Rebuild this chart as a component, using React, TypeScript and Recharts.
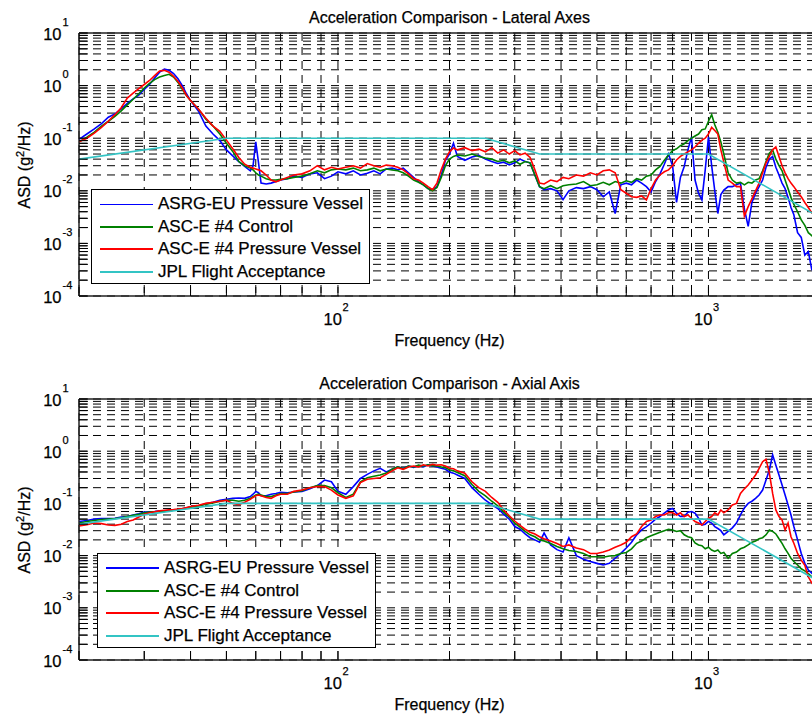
import React from 'react';
import { LineChart, Line, XAxis, YAxis, CartesianGrid, Legend, ReferenceLine } from 'recharts';

// frequency grid (Hz) shared by the measured spectra
const freqHz = [
  20, 21, 22, 23, 24, 25, 26, 27, 28, 29,
  30, 31, 32, 33, 34, 35, 36, 37, 38, 39,
  40, 42, 44, 46, 48, 50, 52, 54, 56, 58,
  59, 60, 61, 62, 64, 66, 68, 70, 73, 76,
  80, 84, 88, 92, 96, 100, 105, 110, 115, 120,
  125, 130, 135, 140, 145, 150, 155, 160, 165, 170,
  175, 180, 185, 190, 195, 200, 205, 210, 220, 230,
  240, 250, 260, 270, 280, 290, 300, 310, 320, 330,
  340, 350, 360, 375, 390, 405, 420, 440, 460, 480,
  500, 520, 540, 560, 580, 600, 620, 640, 660, 680,
  700, 720, 740, 760, 780, 800, 820, 840, 860, 880,
  900, 920, 940, 960, 980, 1000, 1020, 1040, 1060, 1080,
  1100, 1130, 1160, 1190, 1220, 1250, 1280, 1310, 1340, 1370,
  1400, 1430, 1460, 1490, 1520, 1550, 1580, 1610, 1640, 1670,
  1700, 1740, 1780, 1820, 1860, 1900, 1950, 2000,
];

// Lateral axes, ASD in g^2/Hz
const lateralAsrg = [
  0.095, 0.12, 0.15, 0.19, 0.25, 0.29, 0.36, 0.46, 0.56, 0.66,
  0.85, 1.05, 1.4, 1.8, 2.05, 1.95, 1.7, 1.35, 1.0, 0.7,
  0.52, 0.33, 0.17, 0.12, 0.09, 0.06, 0.046, 0.036, 0.029, 0.024,
  0.03, 0.085, 0.035, 0.014, 0.0135, 0.014, 0.015, 0.016, 0.017, 0.019,
  0.018, 0.021, 0.022, 0.017, 0.019, 0.023, 0.021, 0.024, 0.02, 0.0215,
  0.024, 0.021, 0.026, 0.027, 0.025, 0.027, 0.022, 0.018, 0.015, 0.013,
  0.011, 0.0105, 0.012, 0.02, 0.038, 0.05, 0.08, 0.045, 0.038, 0.044,
  0.047, 0.04, 0.036, 0.033, 0.035, 0.031, 0.034, 0.04, 0.036, 0.034,
  0.02, 0.012, 0.0105, 0.011, 0.01, 0.0068, 0.01, 0.0115, 0.011, 0.012,
  0.0105, 0.0077, 0.0095, 0.0037, 0.013, 0.014, 0.013, 0.016, 0.014, 0.012,
  0.0095, 0.015, 0.021, 0.032, 0.05, 0.03, 0.006, 0.018, 0.029, 0.06,
  0.106, 0.016, 0.009, 0.0067, 0.025, 0.106, 0.03, 0.01, 0.0037, 0.0085,
  0.0103, 0.012, 0.012, 0.013, 0.014, 0.0045, 0.0021, 0.006, 0.009, 0.012,
  0.016, 0.028, 0.04, 0.045, 0.028, 0.02, 0.014, 0.011, 0.0075, 0.0048,
  0.0035, 0.0016, 0.0013, 0.0006, 0.0007, 0.00032, 0.00028, 0.0002,
];
const lateralControl = [
  0.085, 0.105, 0.13, 0.17, 0.21, 0.26, 0.33, 0.43, 0.55, 0.7,
  0.9, 1.1, 1.3, 1.45, 1.55, 1.64, 1.45, 1.15, 0.85, 0.65,
  0.52, 0.36, 0.23, 0.17, 0.12, 0.08, 0.056, 0.036, 0.03, 0.027,
  0.025, 0.022, 0.02, 0.019, 0.017, 0.016, 0.016, 0.0165, 0.017, 0.018,
  0.019, 0.021, 0.024, 0.022, 0.025, 0.026, 0.025, 0.027, 0.024, 0.025,
  0.027, 0.024, 0.026, 0.025, 0.024, 0.022, 0.019, 0.016, 0.0145, 0.013,
  0.011, 0.01, 0.0115, 0.018, 0.03, 0.04, 0.045, 0.048, 0.046, 0.05,
  0.045, 0.042, 0.04, 0.036, 0.038, 0.034, 0.037, 0.032, 0.036, 0.034,
  0.02, 0.012, 0.011, 0.0125, 0.011, 0.0125, 0.013, 0.0135, 0.015, 0.0125,
  0.013, 0.0145, 0.013, 0.015, 0.014, 0.0155, 0.0145, 0.017, 0.016, 0.019,
  0.02, 0.025, 0.029, 0.038, 0.048, 0.058, 0.063, 0.072, 0.078, 0.09,
  0.1, 0.11, 0.12, 0.145, 0.15, 0.21, 0.28, 0.18, 0.13, 0.085,
  0.05, 0.022, 0.016, 0.014, 0.0145, 0.013, 0.0145, 0.014, 0.016, 0.017,
  0.024, 0.036, 0.052, 0.06, 0.04, 0.03, 0.024, 0.016, 0.011, 0.0075,
  0.0055, 0.004, 0.0028, 0.0022, 0.0016, 0.0014, 0.0012, 0.0011,
];
const lateralPv = [
  0.086, 0.1, 0.125, 0.16, 0.21, 0.28, 0.38, 0.58, 0.72, 0.88,
  1.05, 1.25, 1.55, 1.9, 1.95, 1.8, 1.5, 1.2, 0.9, 0.65,
  0.52, 0.36, 0.24, 0.17, 0.135, 0.092, 0.063, 0.043, 0.032, 0.028,
  0.027, 0.026, 0.025, 0.024, 0.02, 0.016, 0.0148, 0.016, 0.018, 0.02,
  0.021, 0.024, 0.03, 0.025, 0.028, 0.026, 0.028, 0.03, 0.027, 0.033,
  0.03, 0.028, 0.031, 0.03, 0.028, 0.025, 0.021, 0.017, 0.016, 0.014,
  0.012, 0.0105, 0.014, 0.025, 0.04, 0.055, 0.065, 0.06, 0.066, 0.058,
  0.062, 0.055, 0.066, 0.052, 0.06, 0.05, 0.058, 0.048, 0.052, 0.043,
  0.025, 0.014, 0.0135, 0.016, 0.015, 0.018, 0.017, 0.02, 0.019, 0.022,
  0.02, 0.024, 0.025, 0.022, 0.0105, 0.009, 0.0077, 0.0075, 0.008, 0.0067,
  0.011, 0.016, 0.02, 0.023, 0.025, 0.03, 0.0385, 0.045, 0.05, 0.055,
  0.06, 0.068, 0.08, 0.092, 0.1, 0.12, 0.16, 0.14, 0.12, 0.06,
  0.035, 0.016, 0.014, 0.012, 0.012, 0.0033, 0.005, 0.007, 0.01, 0.014,
  0.022, 0.034, 0.045, 0.06, 0.068, 0.045, 0.03, 0.022, 0.017, 0.014,
  0.012, 0.0095, 0.0077, 0.006, 0.0048, 0.0038, 0.0033, 0.0028,
];

// Axial axis, ASD in g^2/Hz
const axialAsrg = [
  0.045, 0.047, 0.05, 0.051, 0.051, 0.052, 0.055, 0.056, 0.06, 0.063,
  0.068, 0.069, 0.07, 0.072, 0.071, 0.073, 0.074, 0.076, 0.079, 0.082,
  0.086, 0.09, 0.098, 0.105, 0.115, 0.12, 0.125, 0.127, 0.125, 0.135,
  0.15, 0.17, 0.16, 0.14, 0.14, 0.15, 0.155, 0.163, 0.16, 0.165,
  0.17, 0.19, 0.22, 0.28, 0.26, 0.17, 0.15, 0.21, 0.3, 0.36,
  0.42, 0.47, 0.4, 0.45, 0.5, 0.47, 0.52, 0.49, 0.53, 0.5,
  0.55, 0.52, 0.5, 0.47, 0.45, 0.4, 0.38, 0.35, 0.3, 0.2,
  0.15, 0.115, 0.095, 0.08, 0.062, 0.05, 0.036, 0.032, 0.026, 0.022,
  0.02, 0.018, 0.027, 0.016, 0.013, 0.0117, 0.022, 0.01, 0.0085, 0.0077,
  0.0071, 0.0066, 0.0071, 0.0089, 0.011, 0.014, 0.018, 0.025, 0.031, 0.036,
  0.042, 0.05, 0.056, 0.065, 0.075, 0.08, 0.065, 0.056, 0.056, 0.068,
  0.07, 0.065, 0.052, 0.0385, 0.04, 0.045, 0.042, 0.036, 0.033, 0.03,
  0.025, 0.029, 0.034, 0.042, 0.06, 0.082, 0.1, 0.11, 0.125, 0.145,
  0.18, 0.28, 0.436, 0.85, 0.54, 0.35, 0.225, 0.145, 0.093, 0.06,
  0.036, 0.02, 0.011, 0.0071, 0.0053, 0.0046, 0.004, 0.0035,
];
const axialControl = [
  0.042, 0.045, 0.047, 0.049, 0.05, 0.051, 0.053, 0.056, 0.059, 0.062,
  0.066, 0.068, 0.069, 0.07, 0.071, 0.072, 0.074, 0.076, 0.078, 0.081,
  0.085, 0.089, 0.096, 0.102, 0.11, 0.115, 0.115, 0.11, 0.115, 0.125,
  0.135, 0.145, 0.15, 0.145, 0.135, 0.135, 0.145, 0.155, 0.155, 0.165,
  0.175, 0.2, 0.22, 0.22, 0.2, 0.16, 0.13, 0.15, 0.26, 0.31,
  0.33, 0.35, 0.38, 0.45, 0.5, 0.46, 0.52, 0.5, 0.54, 0.52,
  0.55, 0.53, 0.52, 0.5, 0.48, 0.44, 0.42, 0.39, 0.34, 0.23,
  0.17, 0.14, 0.11, 0.09, 0.068, 0.055, 0.042, 0.035, 0.029, 0.025,
  0.023, 0.02, 0.019, 0.017, 0.015, 0.0135, 0.0125, 0.012, 0.011, 0.0095,
  0.0095, 0.0093, 0.0098, 0.01, 0.011, 0.0115, 0.0135, 0.0172, 0.019, 0.022,
  0.024, 0.026, 0.028, 0.03, 0.032, 0.031, 0.029, 0.03, 0.025, 0.023,
  0.022, 0.0175, 0.016, 0.0155, 0.0135, 0.0145, 0.0128, 0.012, 0.0128, 0.011,
  0.0115, 0.0089, 0.011, 0.0117, 0.0135, 0.0145, 0.016, 0.018, 0.019, 0.021,
  0.022, 0.025, 0.031, 0.029, 0.026, 0.021, 0.0172, 0.0135, 0.011, 0.0089,
  0.0077, 0.0066, 0.0056, 0.0051, 0.0045, 0.0039, 0.0035, 0.0032,
];
const axialPv = [
  0.037, 0.039, 0.042, 0.041, 0.0385, 0.038, 0.04, 0.045, 0.048, 0.055,
  0.062, 0.066, 0.069, 0.072, 0.074, 0.075, 0.076, 0.078, 0.08, 0.083,
  0.087, 0.092, 0.1, 0.105, 0.11, 0.115, 0.1, 0.095, 0.105, 0.12,
  0.13, 0.14, 0.145, 0.14, 0.13, 0.125, 0.14, 0.15, 0.15, 0.17,
  0.18, 0.2, 0.21, 0.21, 0.18, 0.145, 0.125, 0.14, 0.25, 0.29,
  0.3, 0.31, 0.36, 0.42, 0.48, 0.45, 0.5, 0.52, 0.5, 0.55,
  0.52, 0.56, 0.54, 0.55, 0.52, 0.47, 0.46, 0.42, 0.38, 0.26,
  0.2, 0.17, 0.13, 0.105, 0.075, 0.058, 0.046, 0.038, 0.032, 0.028,
  0.026, 0.023, 0.021, 0.019, 0.017, 0.015, 0.016, 0.014, 0.013, 0.011,
  0.011, 0.0117, 0.0128, 0.0145, 0.016, 0.018, 0.023, 0.026, 0.036, 0.045,
  0.048, 0.056, 0.06, 0.06, 0.066, 0.066, 0.06, 0.066, 0.056, 0.06,
  0.052, 0.045, 0.042, 0.0385, 0.045, 0.052, 0.056, 0.066, 0.06, 0.075,
  0.066, 0.075, 0.093, 0.1, 0.155, 0.19, 0.225, 0.28, 0.35, 0.47,
  0.63, 0.7, 0.38, 0.155, 0.075, 0.056, 0.048, 0.031, 0.042, 0.023,
  0.0172, 0.011, 0.0082, 0.0065, 0.0039, 0.003, 0.0024, 0.002,
];

// JPL flight acceptance envelope
const jplHz = [20, 50, 250, 350, 1000, 2000];
const jplAsd = [0.04, 0.1, 0.1, 0.05, 0.05, 0.003125];

const xTicks = [20, 30, 40, 50, 60, 70, 80, 90, 100, 200, 300, 400, 500, 600, 700, 800, 900, 1000, 2000];
const yDecades = [-4, -3, -2, -1, 0, 1];
const yMinorSteps = [2, 3, 4, 5, 6, 7, 8, 9];

const seriesNames = ['ASRG-EU Pressure Vessel', 'ASC-E #4 Control', 'ASC-E #4 Pressure Vessel', 'JPL Flight Acceptance'];
const seriesColors = ['#0000ff', '#008000', '#ff0000', '#33c4c4'];

const yTicks: number[] = [];
yDecades.forEach((d) => {
  yTicks.push(Math.pow(10, d));
  if (d < 1) yMinorSteps.forEach((m) => yTicks.push(Number((m * Math.pow(10, d)).toPrecision(3))));
});

const FONT = '"Liberation Sans", Arial, Helvetica, sans-serif';
const PLOT_RIGHT = 820;
const CHART_W = 830;
const textStyle = { fontFamily: FONT, fontSize: 16, color: '#000', WebkitTextStroke: '0.25px #000' };

const toPoints = (vals: number[]) => freqHz.map((f, i) => ({ f, v: vals[i] }));
const jplPoints = jplHz.map((f, i) => ({ f, v: jplAsd[i] }));

const isDecade = (v: number) => {
  const l = Math.log10(v);
  return Math.abs(l - Math.round(l)) < 1e-6;
};

function FreqTick(props: any) {
  const { x, y, payload } = props;
  const v = payload.value;
  return (
    <g>
      <line x1={x} y1={y} x2={x} y2={y - 9} stroke="#000" />
      {isDecade(v) && v > 20 && v < 2000 && (
        <g fontFamily={FONT} fill="#000" stroke="#000" strokeWidth={0.25}>
          <text x={x + 4} y={y + 29} fontSize={16.5} textAnchor="end">10</text>
          <text x={x + 4.5} y={y + 15} fontSize={11}>{Math.round(Math.log10(v))}</text>
        </g>
      )}
    </g>
  );
}

function AsdTick(props: any) {
  const { x, y, payload } = props;
  const v = payload.value;
  return (
    <g>
      <line x1={x} y1={y} x2={x + 9} y2={y} stroke="#000" />
      {isDecade(v) && (
        <g fontFamily={FONT} fill="#000" stroke="#000" strokeWidth={0.25}>
          <text x={x - 17.5} y={y + 6.5} fontSize={16.5} textAnchor="end">10</text>
          <text x={x - 16.5} y={y - 7.5} fontSize={11}>{Math.round(Math.log10(v))}</text>
        </g>
      )}
    </g>
  );
}

function LegendBox({ thinFirst }: { thinFirst: boolean }) {
  return (
    <div style={{ ...textStyle, position: 'relative', width: 277, height: 93, border: '1px solid #000', background: '#fff', fontSize: 17 }}>
      {seriesNames.map((n, i) => (
        <div key={n} style={{ position: 'absolute', left: 8, top: 3 + i * 22.5, height: 22, display: 'flex', alignItems: 'center', whiteSpace: 'nowrap' }}>
          <span style={{ display: 'inline-block', width: 53, borderTop: `${i === 0 && thinFirst ? 1 : 2}px solid ${seriesColors[i]}`, marginRight: 5 }} />
          <span>{n}</span>
        </div>
      ))}
    </div>
  );
}

type PanelProps = {
  top: number;
  plotTop: number;
  plotBottom: number;
  title: string;
  asrg: number[];
  control: number[];
  pv: number[];
  legendLeft: number;
  legendTop: number;
  thinFirst: boolean;
};

function AsdPanel({ top, plotTop, plotBottom, title, asrg, control, pv, legendLeft, legendTop, thinFirst }: PanelProps) {
  const xAxisH = 60;
  const height = plotBottom - top + xAxisH;
  const measured = [asrg, control, pv];
  const plotMid = (plotTop + plotBottom) / 2 - top;
  return (
    <div style={{ position: 'absolute', left: 0, top, width: CHART_W, height }}>
      <LineChart width={CHART_W} height={height} margin={{ top: plotTop - top, right: CHART_W - PLOT_RIGHT, bottom: 0, left: 0 }}>
        <CartesianGrid stroke="#000" strokeDasharray="8 6" />
        <XAxis
          type="number"
          dataKey="f"
          scale="log"
          domain={[20, 2000]}
          ticks={xTicks}
          interval={0}
          allowDataOverflow
          height={xAxisH}
          tickLine={false}
          tickSize={0}
          tickMargin={0}
          tick={(p: any) => <FreqTick {...p} />}
          axisLine={{ stroke: '#222', strokeWidth: 1.5 }}
        />
        <YAxis
          type="number"
          scale="log"
          domain={[1e-4, 10]}
          ticks={yTicks}
          interval={0}
          allowDataOverflow
          width={79}
          tickLine={false}
          tickSize={0}
          tickMargin={0}
          tick={(p: any) => <AsdTick {...p} />}
          axisLine={{ stroke: '#222', strokeWidth: 1.5 }}
        />
        <ReferenceLine y={10} stroke="#222" strokeWidth={1.5} />
        <ReferenceLine x={2000} stroke="#222" strokeWidth={1.5} />
        {measured.map((vals, i) => (
          <Line
            key={seriesNames[i]}
            name={seriesNames[i]}
            data={toPoints(vals)}
            dataKey="v"
            type="linear"
            stroke={seriesColors[i]}
            strokeWidth={1.6}
            dot={false}
            isAnimationActive={false}
          />
        ))}
        <Line
          name={seriesNames[3]}
          data={jplPoints}
          dataKey="v"
          type="linear"
          stroke={seriesColors[3]}
          strokeWidth={1.6}
          dot={false}
          isAnimationActive={false}
        />
        <Legend
          layout="vertical"
          align="center"
          verticalAlign="middle"
          wrapperStyle={{ left: legendLeft, top: legendTop - top, width: 279 }}
          content={() => <LegendBox thinFirst={thinFirst} />}
        />
      </LineChart>
      <div style={{ ...textStyle, position: 'absolute', left: 0, width: 899, top: plotTop - top - 24, height: 18, lineHeight: '18px', textAlign: 'center', pointerEvents: 'none' }}>
        {title}
      </div>
      <div style={{ ...textStyle, position: 'absolute', left: 0, width: 899, top: plotBottom - top + 36, height: 18, lineHeight: '18px', textAlign: 'center', pointerEvents: 'none' }}>
        Frequency (Hz)
      </div>
      <div style={{ ...textStyle, position: 'absolute', left: 25 - 100, top: plotMid - 10, width: 200, height: 20, lineHeight: '20px', textAlign: 'center', transform: 'rotate(-90deg)', pointerEvents: 'none' }}>
        ASD (g<sup style={{ fontSize: 11, lineHeight: 0 }}>2</sup>/Hz)
      </div>
    </div>
  );
}

export default function App() {
  return (
    <div style={{ position: 'fixed', left: 0, top: 0, width: 812, height: 719, overflow: 'hidden', background: '#fff' }}>
      <AsdPanel
        top={0}
        plotTop={33}
        plotBottom={296}
        title="Acceleration Comparison - Lateral Axes"
        asrg={lateralAsrg}
        control={lateralControl}
        pv={lateralPv}
        legendLeft={91}
        legendTop={189}
        thinFirst
      />
      <AsdPanel
        top={366}
        plotTop={399}
        plotBottom={660}
        title="Acceleration Comparison - Axial Axis"
        asrg={axialAsrg}
        control={axialControl}
        pv={axialPv}
        legendLeft={97}
        legendTop={553}
        thinFirst={false}
      />
    </div>
  );
}
